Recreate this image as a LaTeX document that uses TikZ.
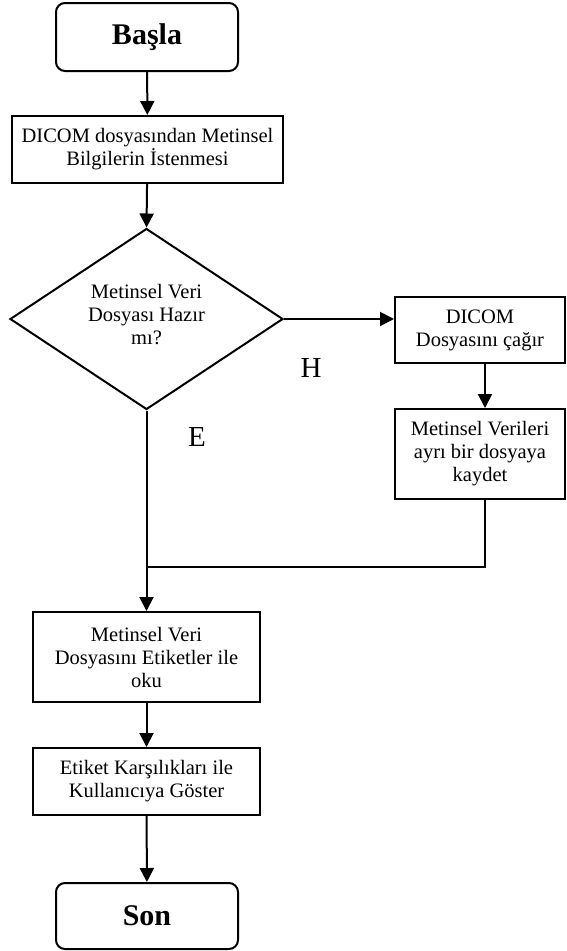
\documentclass[tikz,border=0pt]{standalone}
\usepackage{fontspec}
\setmainfont{Liberation Serif}
\usetikzlibrary{shapes.geometric,arrows.meta}
\begin{document}
\begin{tikzpicture}[x=1pt,y=-1pt,
  box/.style={draw,line width=2pt,align=center,inner sep=0pt,font=\fontsize{20.5}{23}\selectfont},
  term/.style={draw,line width=2pt,rounded corners=9pt,inner sep=0pt,font=\fontsize{30}{34}\selectfont\bfseries},
  dec/.style={draw,line width=2pt,diamond,aspect=1.5,inner sep=0pt},
  txt/.style={align=center,inner sep=0pt,font=\fontsize{20.5}{23}\selectfont},
  arr/.style={line width=2pt,-{Triangle[length=14pt,width=14pt]}},
  lnk/.style={line width=2pt},
  lbl/.style={inner sep=0pt,font=\fontsize{29}{33}\selectfont}]
\useasboundingbox (0,0) rectangle (566,951);
\node[term,minimum width=182pt,minimum height=68pt] (start) at (147,37) {Başla};
\node[box,minimum width=271pt,minimum height=67pt] (b1) at (147.5,149.5) {DICOM dosyasından Metinsel\\Bilgilerin İstenmesi};
\node[dec,minimum width=273pt,minimum height=181pt] (d) at (146.5,319) {};
\node[txt] (dt) at (146.5,315) {Metinsel Veri\\Dosyası Hazır\\mı?};
\node[box,minimum width=170pt,minimum height=66pt] (r1) at (480,330) {DICOM\\Dosyasını çağır};
\node[box,minimum width=170pt,minimum height=90pt] (r2) at (480,454) {Metinsel Verileri\\ayrı bir dosyaya\\kaydet};
\node[box,minimum width=227pt,minimum height=90pt] (b3) at (146.5,657) {Metinsel Veri\\Dosyasını Etiketler ile\\oku};
\node[box,minimum width=227pt,minimum height=67pt] (b4) at (146.5,781.5) {Etiket Karşılıkları ile\\Kullanıcıya Göster};
\node[term,minimum width=182pt,minimum height=66pt] (end) at (147,916) {Son};
\node[lbl] (h) at (311,368) {H};
\node[lbl] (e) at (197,437) {E};
\coordinate (j) at (147,567);
\draw[arr] (start) -- (b1);
\draw[arr] (b1) -- (d.north);
\draw[arr] (d.east) -- (r1.west |- d.east);
\draw[arr] ([xshift=5pt]r1.south) -- ([xshift=5pt]r2.north);
\draw[lnk] ([xshift=5pt]r2.south) |- (j);
\draw[arr] (d.south) -- (b3.north);
\draw[arr] (b3) -- (b4);
\draw[arr] (b4) -- (end);
\end{tikzpicture}
\end{document}
